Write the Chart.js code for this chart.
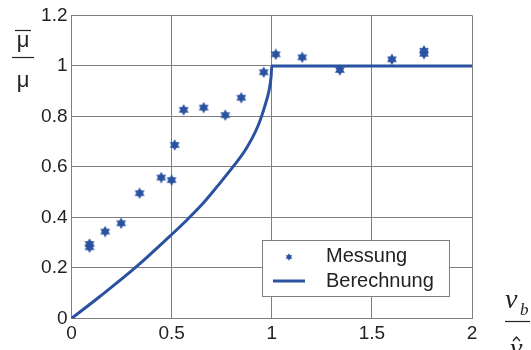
<!DOCTYPE html>
<html>
<head>
<meta charset="utf-8">
<script src="https://cdn.jsdelivr.net/npm/chart.js@4.4.1/dist/chart.umd.min.js"></script>
<style>
  html, body { margin: 0; padding: 0; background: #fff; }
  #wrap { width: 531px; height: 350px; }
</style>
</head>
<body>
<div id="wrap"><canvas id="chart" width="531" height="350"></canvas></div>
<script>
// measured points (Messung)
var messX = [0.09, 0.09, 0.168, 0.248, 0.34, 0.448, 0.5, 0.515, 0.56, 0.66, 0.768, 0.848, 0.96, 1.02, 1.152, 1.34, 1.60, 1.76, 1.76];
var messY = [0.282, 0.295, 0.344, 0.377, 0.496, 0.558, 0.548, 0.687, 0.826, 0.835, 0.805, 0.874, 0.975, 1.046, 1.034, 0.984, 1.026, 1.048, 1.060];

// computed curve (Berechnung)
var calcX = [0, 0.14, 0.317, 0.49, 0.57, 0.657, 0.73, 0.806, 0.872, 0.93, 0.965, 0.987, 0.997, 1.0, 2.0];
var calcY = [0, 0.086, 0.2, 0.325, 0.385, 0.456, 0.525, 0.6, 0.672, 0.76, 0.84, 0.905, 0.96, 1.0, 1.0];

var xTicks = [0, 0.5, 1, 1.5, 2];
var yTicks = [0, 0.2, 0.4, 0.6, 0.8, 1, 1.2];

var blue = '#2a52a0';
var gridGray = '#7f7f7f';
var sans = '"Liberation Sans", Arial, sans-serif';

function pts(xs, ys) {
  return xs.map(function(x, i) { return { x: x, y: ys[i] }; });
}

// six-pointed star marker
function makeStar(size) {
  var c = document.createElement('canvas');
  c.width = size; c.height = size;
  var g = c.getContext('2d'), r = size / 2, cx = r, cy = r;
  g.fillStyle = blue;
  [0, Math.PI].forEach(function(rot) {
    g.beginPath();
    for (var k = 0; k < 3; k++) {
      var a = rot - Math.PI / 2 + k * 2 * Math.PI / 3;
      var px = cx + (r - 0.3) * Math.cos(a), py = cy + (r - 0.3) * Math.sin(a);
      if (k === 0) g.moveTo(px, py); else g.lineTo(px, py);
    }
    g.closePath();
    g.fill();
  });
  return c;
}
var star = makeStar(12);
var smallStar = makeStar(8);

var labels = {
  id: 'labels',
  afterDraw: function(chart) {
    var ctx = chart.ctx;
    ctx.save();
    ctx.fillStyle = '#222';
    ctx.strokeStyle = '#222';
    // y axis title: mu-bar over mu
    ctx.font = '22px ' + sans;
    ctx.textAlign = 'center';
    ctx.textBaseline = 'middle';
    ctx.fillText('\u03bc', 23, 41);
    ctx.fillText('\u03bc', 23, 81);
    ctx.lineWidth = 1.2;
    ctx.beginPath(); ctx.moveTo(15, 30.5); ctx.lineTo(31, 30.5); ctx.stroke();
    ctx.beginPath(); ctx.moveTo(12, 57.5); ctx.lineTo(34, 57.5); ctx.stroke();
    // x axis title: v_b over v-hat
    ctx.font = 'italic 28px "Liberation Serif", "Times New Roman", serif';
    ctx.textAlign = 'left';
    ctx.textBaseline = 'alphabetic';
    ctx.fillText('v', 505, 308);
    ctx.font = 'italic 17px "Liberation Serif", "Times New Roman", serif';
    ctx.fillText('b', 520, 315);
    ctx.beginPath(); ctx.moveTo(505, 321.5); ctx.lineTo(530, 321.5); ctx.stroke();
    ctx.font = 'italic 28px "Liberation Serif", "Times New Roman", serif';
    ctx.fillText('v', 510, 357);
    ctx.lineWidth = 1.3;
    ctx.beginPath(); ctx.moveTo(513, 341); ctx.lineTo(516.5, 337); ctx.lineTo(520, 341); ctx.stroke();

    // legend
    ctx.fillStyle = '#fff';
    ctx.fillRect(262, 240, 187, 56);
    ctx.strokeStyle = gridGray;
    ctx.lineWidth = 1;
    ctx.strokeRect(262.5, 240.5, 187, 56);
    ctx.drawImage(smallStar, 285, 253);
    ctx.strokeStyle = blue;
    ctx.lineWidth = 3;
    ctx.beginPath(); ctx.moveTo(273, 281); ctx.lineTo(305, 281); ctx.stroke();
    ctx.fillStyle = '#222';
    ctx.font = '20px ' + sans;
    ctx.textBaseline = 'middle';
    ctx.fillText('Messung', 326, 256);
    ctx.fillText('Berechnung', 326, 281);
    ctx.restore();
  }
};

new Chart(document.getElementById('chart'), {
  type: 'scatter',
  data: {
    datasets: [
      {
        label: 'Berechnung',
        data: pts(calcX, calcY),
        showLine: true,
        borderColor: blue,
        borderWidth: 3,
        pointRadius: 0,
        cubicInterpolationMode: 'monotone',
        order: 2
      },
      {
        label: 'Messung',
        data: pts(messX, messY),
        pointStyle: star,
        pointRadius: 5,
        order: 1
      }
    ]
  },
  options: {
    responsive: false,
    animation: false,
    layout: { padding: { top: 15, right: 59, left: 0, bottom: 0 } },
    plugins: { legend: { display: false }, tooltip: { enabled: false } },
    scales: {
      x: {
        type: 'linear',
        min: 0, max: 2,
        afterBuildTicks: function(s) { s.ticks = xTicks.map(function(v) { return { value: v }; }); },
        afterFit: function(s) { s.height = 31.5; },
        grid: { color: gridGray, drawTicks: false },
        border: { color: gridGray },
        ticks: { color: '#222', font: { family: sans, size: 19 }, padding: 4,
          callback: function(v) { return String(v); } }
      },
      y: {
        type: 'linear',
        min: 0, max: 1.2,
        afterBuildTicks: function(s) { s.ticks = yTicks.map(function(v) { return { value: v }; }); },
        afterFit: function(s) { s.width = 71.5; },
        grid: { color: gridGray, drawTicks: false },
        border: { color: gridGray },
        ticks: { color: '#222', font: { family: sans, size: 19 }, padding: 4,
          callback: function(v) { return String(Math.round(v * 10) / 10); } }
      }
    }
  },
  plugins: [labels]
});
</script>
</body>
</html>
